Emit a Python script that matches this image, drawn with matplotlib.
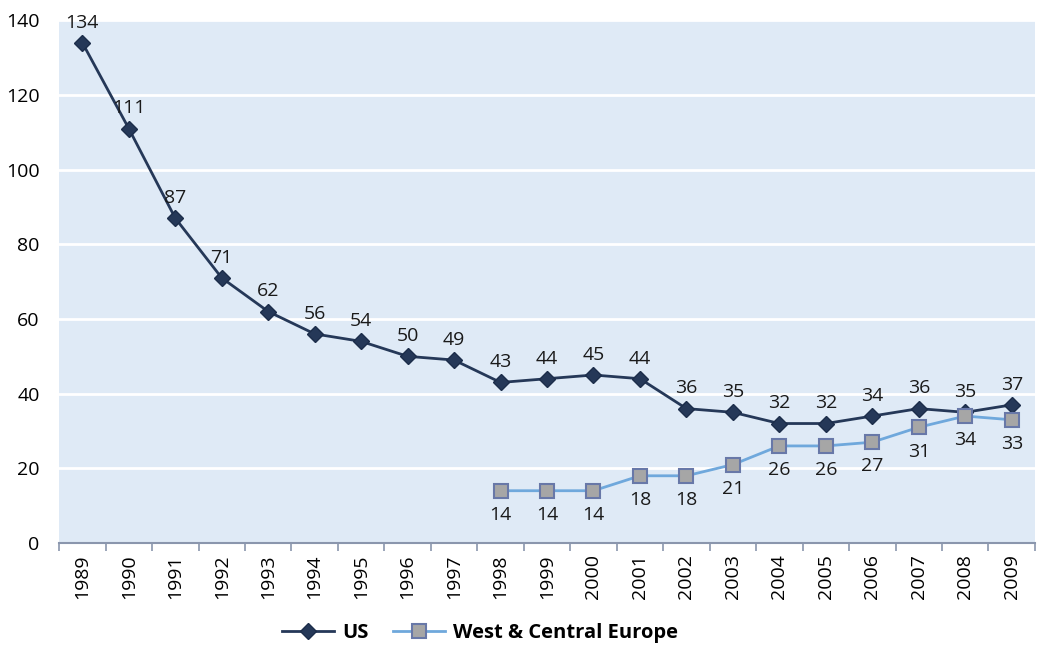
import matplotlib
matplotlib.use('Agg')
from matplotlib import pyplot as plt
import numpy as np

plt.rcParams['font.family'] = ['Open Sans', 'DejaVu Sans']

years = list(range(1989, 2010))
us = [134, 111, 87, 71, 62, 56, 54, 50, 49, 43, 44, 45, 44, 36, 35, 32, 32, 34, 36, 35, 37]
eu_years = list(range(1998, 2010))
eu = [14, 14, 14, 18, 18, 21, 26, 26, 27, 31, 34, 33]

fig = plt.figure(figsize=(10.37, 6.55), dpi=100)
ax = fig.add_axes([0.057, 0.171, 0.941, 0.798])
ax.set_facecolor('#dfeaf6')

x_us = np.arange(len(years))
x_eu = np.array([years.index(y) for y in eu_years])

ax.plot(x_us, us, color='#253858', lw=2, marker='D', ms=8,
        mfc='#253858', mec='#1c2d4a', label='US', zorder=3)
ax.plot(x_eu, eu, color='#6fa8dc', lw=2, marker='s', ms=10,
        mfc='#a6a6a6', mec='#6878a8', mew=1.5, label='West & Central Europe', zorder=4)

for xi, v in zip(x_us, us):
    ax.annotate(str(v), (xi, v), xytext=(0, 8), textcoords='offset points',
                ha='center', va='bottom', fontsize=14, color='#1a1a1a')
for xi, v in zip(x_eu, eu):
    ax.annotate(str(v), (xi, v), xytext=(0, -11), textcoords='offset points',
                ha='center', va='top', fontsize=14, color='#1a1a1a')

ax.set_xlim(-0.5, len(years) - 0.5)
ax.set_ylim(0, 140)
ax.set_yticks(range(0, 141, 20))
ax.yaxis.grid(True, color='white', lw=2)
ax.set_axisbelow(True)
ax.set_xticks(x_us)
ax.set_xticklabels([str(y) for y in years], rotation=90)
ax.set_xticks(np.arange(-0.5, len(years)), minor=True)
ax.tick_params(axis='x', which='major', length=0, pad=8, labelsize=14)
ax.tick_params(axis='x', which='minor', length=6, color='#8a96ad', width=1.2)
ax.tick_params(axis='y', length=0, labelsize=14, pad=14)
for s in ['top', 'right', 'left']:
    ax.spines[s].set_visible(False)
ax.spines['bottom'].set_color('#8a96ad')
ax.spines['bottom'].set_linewidth(1.5)

leg = fig.legend(loc='lower center', bbox_to_anchor=(0.463, -0.01), ncol=2, frameon=False,
                 prop={'weight': 'bold', 'size': 14.5}, handlelength=2.6, columnspacing=1.2,
                 handletextpad=0.4)

fig.savefig('out.png', dpi=100)
